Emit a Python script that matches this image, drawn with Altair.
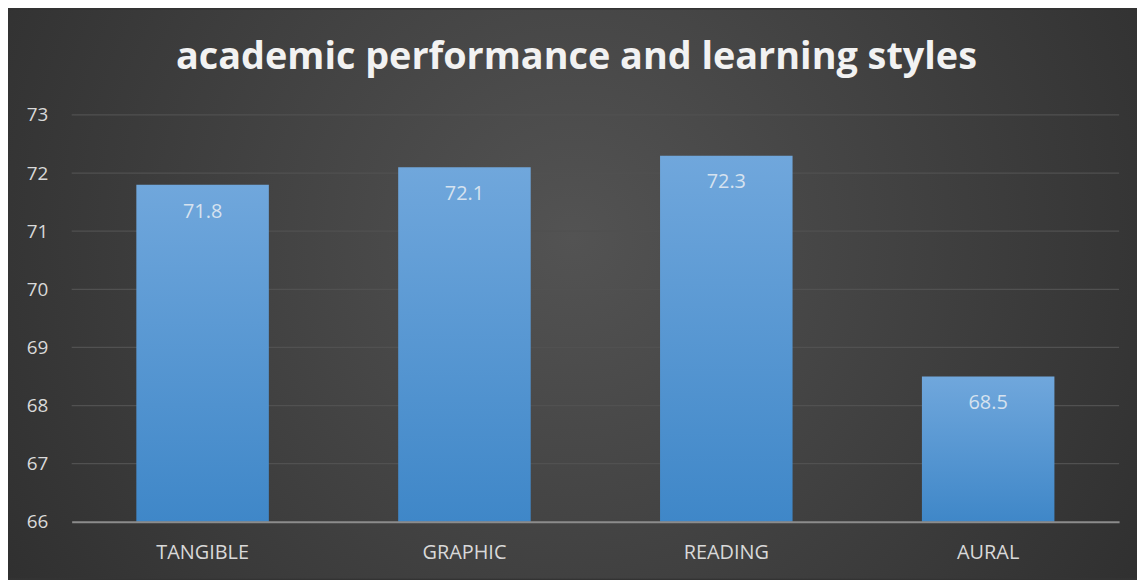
import altair as alt
import pandas as pd

categories = ["TANGIBLE", "GRAPHIC", "READING", "AURAL"]
values = [71.8, 72.1, 72.3, 68.5]
y_ticks = [66, 67, 68, 69, 70, 71, 72, 73]

df = pd.DataFrame({"style": categories, "score": values})
grid_df = pd.DataFrame({"tick": y_ticks[1:]})

W, H = 1053, 409
PL, PT, PR, PB = 64, 106, 18, 57
FONT = "Open Sans"

bg = alt.Chart(pd.DataFrame({"a": [0]})).mark_rect(
    color=alt.RadialGradient(
        gradient="radial",
        stops=[alt.GradientStop(offset=0, color="#535353"),
               alt.GradientStop(offset=1, color="#262626")],
        x1=0.5, y1=0.45, r1=0, x2=0.5, y2=0.45, r2=0.75,
    ),
    clip=False,
).encode(
    x=alt.value(-PL), x2=alt.value(W + PR),
    y=alt.value(-PT), y2=alt.value(H + PB),
)

yscale = alt.Scale(domain=[66, 73], zero=False, nice=False)

grid = alt.Chart(grid_df).mark_rule(color="#515151", strokeWidth=1.2).encode(
    y=alt.Y("tick:Q", scale=yscale), x=alt.value(0), x2=alt.value(W)
)

xenc = alt.X(
    "style:N", sort=categories, title=None,
    scale=alt.Scale(paddingInner=0.494, paddingOuter=0.247),
    axis=alt.Axis(labelAngle=0, labelColor="#d9d9d9", labelFont=FONT, labelFontSize=20,
                  labelPadding=21, ticks=False, domainColor="#8c8c8c", domainWidth=2,
                  grid=False, zindex=1),
)
yenc = alt.Y(
    "score:Q", title=None, scale=yscale,
    axis=alt.Axis(values=y_ticks, format="d", labelColor="#d9d9d9", labelFont=FONT,
                  labelFontSize=19, labelPadding=24, ticks=False, domain=False,
                  grid=False, zindex=1),
)

bars = alt.Chart(df).mark_bar(
    color=alt.LinearGradient(
        gradient="linear",
        stops=[alt.GradientStop(offset=0, color="#70a7dc"),
               alt.GradientStop(offset=1, color="#3f87c8")],
        x1=0, y1=0, x2=0, y2=1,
    )
).encode(x=xenc, y=yenc, y2=alt.datum(66))

labels = alt.Chart(df).mark_text(
    baseline="middle", dy=27, color="#d6e2ef", font=FONT, fontSize=20
).encode(x=alt.X("style:N", sort=categories), y="score:Q", text=alt.Text("score:Q", format=".1f"))

chart = alt.layer(bg, grid, bars, labels).properties(
    width=W, height=H,
    padding={"left": PL, "top": PT, "right": PR, "bottom": PB},
    autosize=alt.AutoSizeParams(type="none"),
    background="#333333",
    title=alt.TitleParams(
        "academic performance and learning styles",
        color="#f2f2f2", font=FONT, fontSize=38, fontWeight="bold",
        anchor="middle", baseline="alphabetic", offset=-98, dx=-19,
    ),
).configure_view(stroke=None)

chart.save("out.html", embed_options={"renderer": "svg", "actions": False})
